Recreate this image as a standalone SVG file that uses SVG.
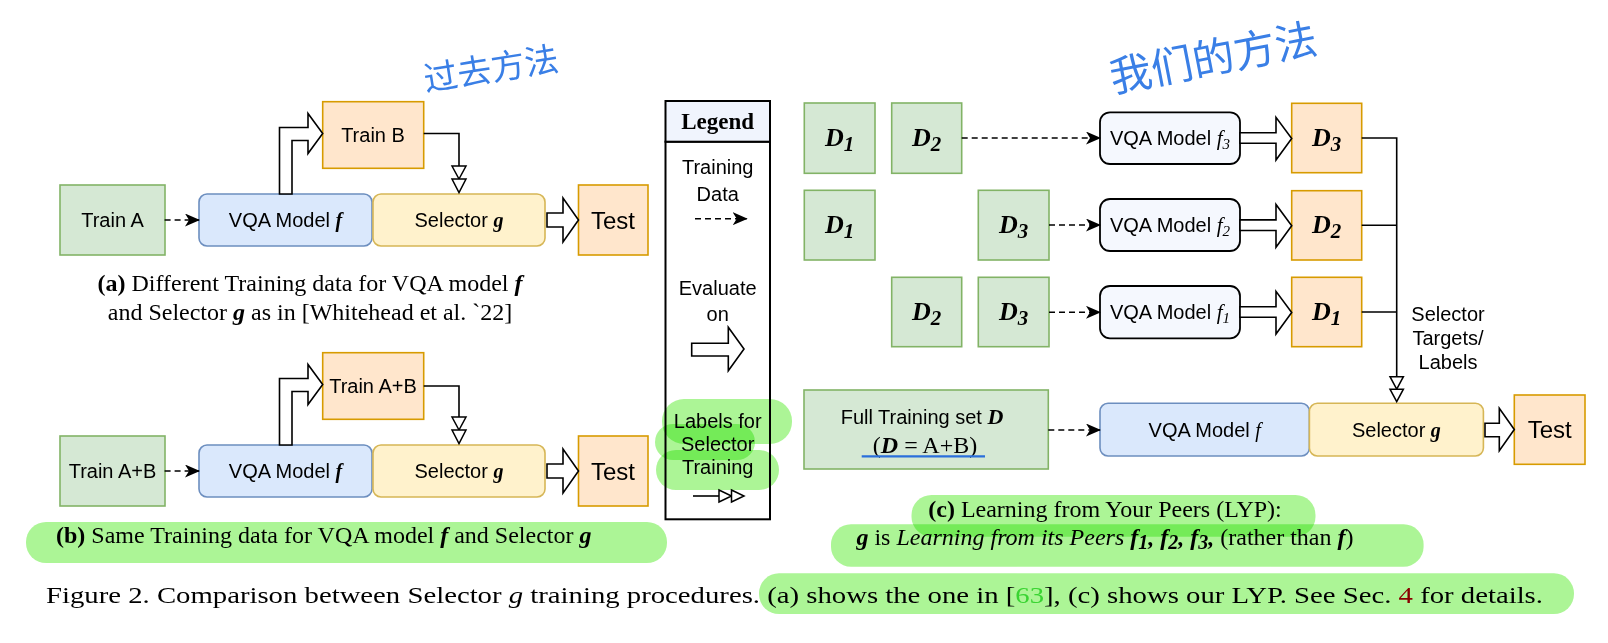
<svg xmlns="http://www.w3.org/2000/svg" width="1608" height="643" viewBox="0 0 1608 643">
<defs>
<style>
.g{fill:#d5e8d4;stroke:#82b366;stroke-width:1.6}
.o{fill:#ffe6cc;stroke:#d79b00;stroke-width:1.6}
.b{fill:#dae8fc;stroke:#6c8ebf;stroke-width:1.6}
.y{fill:#fff2cc;stroke:#d6b656;stroke-width:1.6}
.w{fill:#f5f8fe;stroke:#000;stroke-width:1.8}
.lbl{font-family:"Liberation Sans",Arial,sans-serif;font-size:20px;fill:#000;text-anchor:middle}
.big{font-size:24px}
.tm{font-family:"Liberation Serif","Times New Roman",serif}
.bi{font-family:"Liberation Serif","Times New Roman",serif;font-weight:bold;font-style:italic}
.it{font-family:"Liberation Serif","Times New Roman",serif;font-style:italic}
.bd{font-weight:bold}
.dl{font-family:"Liberation Serif","Times New Roman",serif;font-weight:bold;font-style:italic;font-size:26px;text-anchor:middle;fill:#000}
.cap{font-family:"Liberation Serif","Times New Roman",serif;font-size:24px;fill:#000}
.hol{fill:#fff;stroke:#000;stroke-width:1.6;stroke-linejoin:miter}
.ln{fill:none;stroke:#000;stroke-width:1.6}
.dash{fill:none;stroke:#000;stroke-width:1.6;stroke-dasharray:6 4}
.tri{fill:#fff;stroke:#000;stroke-width:1.5}
.hl{fill:#a3f48b;mix-blend-mode:multiply;opacity:0.9}
.hw{font-family:"Noto Sans CJK SC",sans-serif;fill:#3a7fe6;text-anchor:middle}
</style>
<marker id="ah" markerWidth="15" markerHeight="13" refX="14" refY="6.5" orient="auto" markerUnits="userSpaceOnUse">
<path d="M0,0 L15,6.5 L0,13 L4,6.5 Z" fill="#000"/>
</marker>
</defs>
<rect width="1608" height="643" fill="#fff"/>

<!-- handwriting -->
<text class="hw" x="491" y="81" font-size="34" transform="rotate(-9 491 68)">过去方法</text>
<text class="hw" x="1213" y="73" font-size="42" transform="rotate(-11 1213 57)">我们的方法</text>

<!-- (a) -->
<g id="a-trainA"><rect class="g" x="60" y="185" width="105" height="70"/><text class="lbl" x="112.5" y="227">Train A</text></g>
<g id="a-vqa"><rect class="b" x="199" y="194" width="173" height="52" rx="8"/><text class="lbl" x="285.5" y="227">VQA Model <tspan class="bi">f</tspan></text></g>
<g id="a-sel"><rect class="y" x="373" y="194" width="172" height="52" rx="8"/><text class="lbl" x="459" y="227">Selector <tspan class="bi">g</tspan></text></g>
<g id="a-test"><rect class="o" x="578.5" y="185" width="69.5" height="70"/><text class="lbl big" x="613" y="228.6">Test</text></g>
<g id="a-trainB"><rect class="o" x="322.7" y="101.7" width="101" height="66.6"/><text class="lbl" x="373" y="142">Train B</text></g>
<g id="a-caption">
<text class="cap" x="310" y="291" text-anchor="middle"><tspan class="bd">(a)</tspan> Different Training data for VQA model <tspan class="bi">f</tspan></text>
<text class="cap" x="310" y="320" text-anchor="middle">and Selector <tspan class="bi">g</tspan> as in [Whitehead et al. `22]</text>
</g>

<!-- (b) -->
<g id="b-trainAB"><rect class="g" x="60" y="436" width="105" height="70"/><text class="lbl" x="112.5" y="478">Train A+B</text></g>
<g id="b-vqa"><rect class="b" x="199" y="445" width="173" height="52" rx="8"/><text class="lbl" x="285.5" y="478">VQA Model <tspan class="bi">f</tspan></text></g>
<g id="b-sel"><rect class="y" x="373" y="445" width="172" height="52" rx="8"/><text class="lbl" x="459" y="478">Selector <tspan class="bi">g</tspan></text></g>
<g id="b-test"><rect class="o" x="578.5" y="436" width="69.5" height="70"/><text class="lbl big" x="613" y="479.6">Test</text></g>
<g id="b-trainAB2"><rect class="o" x="322.7" y="352.7" width="101" height="66.6"/><text class="lbl" x="373" y="393">Train A+B</text></g>

<!-- legend -->
<g id="legend">
<rect x="665.5" y="141.7" width="104.5" height="377.6" fill="#fff" stroke="#000" stroke-width="2"/>
<rect x="665.5" y="101" width="104.5" height="40.7" fill="#f0f4fd" stroke="#000" stroke-width="2"/>
<text class="tm bd" x="717.7" y="128.5" font-size="23" text-anchor="middle">Legend</text>
<text class="lbl" x="717.7" y="174">Training</text>
<text class="lbl" x="717.7" y="201">Data</text>
<path class="dash" d="M695,218.7 L746.7,218.7" marker-end="url(#ah)"/>
<text class="lbl" x="717.7" y="295">Evaluate</text>
<text class="lbl" x="717.7" y="321">on</text>
<polygon class="hol" points="691.7,343.3 728.3,343.3 728.3,327.3 744,349 728.3,370.7 728.3,356 691.7,356"/>
<text class="lbl" x="717.7" y="428">Labels for</text>
<text class="lbl" x="717.7" y="451">Selector</text>
<text class="lbl" x="717.7" y="474">Training</text>
<path class="ln" d="M693,496 L719,496"/>
<polygon class="tri" points="719,490 731.5,496 719,502"/>
<polygon class="tri" points="731.5,490 744,496 731.5,502"/>
</g>

<!-- (c) data boxes -->
<g id="c-r1-d1"><rect class="g" x="804.3" y="103" width="70.7" height="70.3"/><text class="dl" x="839.7" y="146">D<tspan font-size="21" dy="5">1</tspan></text></g>
<g id="c-r1-d2"><rect class="g" x="891.7" y="103" width="70" height="70.3"/><text class="dl" x="926.7" y="146">D<tspan font-size="21" dy="5">2</tspan></text></g>
<g id="c-r2-d1"><rect class="g" x="804.3" y="190.3" width="70.7" height="69.7"/><text class="dl" x="839.7" y="233">D<tspan font-size="21" dy="5">1</tspan></text></g>
<g id="c-r2-d3"><rect class="g" x="978.3" y="190.3" width="70.7" height="69.7"/><text class="dl" x="1013.7" y="233">D<tspan font-size="21" dy="5">3</tspan></text></g>
<g id="c-r3-d2"><rect class="g" x="891.7" y="277.3" width="70" height="69.4"/><text class="dl" x="926.7" y="320">D<tspan font-size="21" dy="5">2</tspan></text></g>
<g id="c-r3-d3"><rect class="g" x="978.3" y="277.3" width="70.7" height="69.4"/><text class="dl" x="1013.7" y="320">D<tspan font-size="21" dy="5">3</tspan></text></g>

<g id="c-f3"><rect class="w" x="1100" y="112.3" width="140" height="51.7" rx="10"/><text class="lbl" x="1170" y="145">VQA Model <tspan class="it" font-size="21">f</tspan><tspan class="it" font-size="15" dy="4">3</tspan></text></g>
<g id="c-f2"><rect class="w" x="1100" y="199" width="140" height="52" rx="10"/><text class="lbl" x="1170" y="232">VQA Model <tspan class="it" font-size="21">f</tspan><tspan class="it" font-size="15" dy="4">2</tspan></text></g>
<g id="c-f1"><rect class="w" x="1100" y="286" width="140" height="52.3" rx="10"/><text class="lbl" x="1170" y="319">VQA Model <tspan class="it" font-size="21">f</tspan><tspan class="it" font-size="15" dy="4">1</tspan></text></g>

<g id="c-o3"><rect class="o" x="1291.7" y="103.3" width="70" height="69.4"/><text class="dl" x="1326.7" y="146">D<tspan font-size="21" dy="5">3</tspan></text></g>
<g id="c-o2"><rect class="o" x="1291.7" y="190.7" width="70" height="69.3"/><text class="dl" x="1326.7" y="233">D<tspan font-size="21" dy="5">2</tspan></text></g>
<g id="c-o1"><rect class="o" x="1291.7" y="277.3" width="70" height="69.4"/><text class="dl" x="1326.7" y="320">D<tspan font-size="21" dy="5">1</tspan></text></g>

<g id="c-full"><rect class="g" x="804" y="390" width="244.3" height="79"/>
<text class="lbl" x="922" y="423.5" font-size="21">Full Training set <tspan class="bi" font-size="22">D</tspan></text>
<text class="tm" x="925" y="453.3" font-size="24" text-anchor="middle">(<tspan class="bi">D</tspan> = A+B)</text>
<path d="M861.7,456.3 L985,456.3" stroke="#2a6fdb" stroke-width="2.2" fill="none"/>
</g>
<g id="c-vqa"><rect class="b" x="1100" y="403.3" width="209.4" height="52.7" rx="8"/><text class="lbl" x="1204.7" y="437">VQA Model <tspan class="it">f</tspan></text></g>
<g id="c-sel"><rect class="y" x="1309.4" y="403.3" width="174" height="52.7" rx="8"/><text class="lbl" x="1396.4" y="437">Selector <tspan class="bi">g</tspan></text></g>
<g id="c-test"><rect class="o" x="1514.3" y="395" width="70.7" height="69.3"/><text class="lbl big" x="1549.7" y="438.2">Test</text></g>
<g id="c-targets">
<text class="lbl" x="1448" y="321" font-size="19.5">Selector</text>
<text class="lbl" x="1448" y="345" font-size="19.5">Targets/</text>
<text class="lbl" x="1448" y="369" font-size="19.5">Labels</text>
</g>

<!-- connectors -->
<g id="connectors">
<path class="dash" d="M164.6,220 L199,220" marker-end="url(#ah)"/>
<polygon class="hol" points="279.5,194 279.5,127.5 308,127.5 308,113.5 322.7,133.5 308,153.5 308,140.5 292,140.5 292,194"/>
<path class="ln" d="M423.7,133.5 L459,133.5 L459,166"/>
<polygon class="tri" points="452,166 466,166 459,179"/>
<polygon class="tri" points="452,179 466,179 459,192.5"/>
<polygon class="hol" points="547,213 563,213 563,198 578.5,220 563,242 563,227 547,227"/>

<path class="dash" d="M164.6,471 L199,471" marker-end="url(#ah)"/>
<polygon class="hol" points="279.5,445 279.5,378.5 308,378.5 308,364.5 322.7,384.5 308,404.5 308,391.5 292,391.5 292,445"/>
<path class="ln" d="M423.7,386 L459,386 L459,417"/>
<polygon class="tri" points="452,417 466,417 459,430"/>
<polygon class="tri" points="452,430 466,430 459,443.5"/>
<polygon class="hol" points="547,464 563,464 563,449 578.5,471 563,493 563,478 547,478"/>

<path class="dash" d="M961.7,138 L1100,138" marker-end="url(#ah)"/>
<path class="dash" d="M1049,225 L1100,225" marker-end="url(#ah)"/>
<path class="dash" d="M1049,312.3 L1100,312.3" marker-end="url(#ah)"/>
<polygon class="hol" points="1240,132.7 1276,132.7 1276,117.3 1291.7,138.5 1276,160 1276,143.3 1240,143.3"/>
<polygon class="hol" points="1240,219.9 1276,219.9 1276,204.5 1291.7,225.7 1276,247.2 1276,230.5 1240,230.5"/>
<polygon class="hol" points="1240,306.7 1276,306.7 1276,291.3 1291.7,312.5 1276,334 1276,317.3 1240,317.3"/>
<path class="ln" d="M1361.7,138 L1396.7,138 L1396.7,376.7 M1361.7,225.3 L1396.7,225.3 M1361.7,312 L1396.7,312"/>
<polygon class="tri" points="1390,376.7 1403.4,376.7 1396.7,389.2"/>
<polygon class="tri" points="1390,389.2 1403.4,389.2 1396.7,401.7"/>
<path class="dash" d="M1048.3,430 L1100,430" marker-end="url(#ah)"/>
<polygon class="hol" points="1485,423.3 1499.3,423.3 1499.3,408.3 1514.3,429.5 1499.3,450.7 1499.3,436.7 1485,436.7"/>
</g>

<!-- captions -->
<text class="cap" x="56" y="543.3"><tspan class="bd">(b)</tspan> Same Training data for VQA model <tspan class="bi">f</tspan> and Selector <tspan class="bi">g</tspan></text>
<text class="cap" x="1105" y="516.7" text-anchor="middle"><tspan class="bd">(c)</tspan> Learning from Your Peers (LYP):</text>
<text class="cap" x="1105" y="545" text-anchor="middle"><tspan class="bi">g</tspan> is <tspan class="it">Learning from its Peers</tspan> <tspan class="bi">f</tspan><tspan class="bi" font-size="20" dy="4">1</tspan><tspan class="bi" dy="-4">, f</tspan><tspan class="bi" font-size="20" dy="4">2</tspan><tspan class="bi" dy="-4">, f</tspan><tspan class="bi" font-size="20" dy="4">3</tspan><tspan class="bi" dy="-4">,</tspan> (rather than <tspan class="bi">f</tspan>)</text>
<text class="cap" x="46" y="603" font-size="30" textLength="1497" lengthAdjust="spacingAndGlyphs">Figure 2. Comparison between Selector <tspan class="it">g</tspan> training procedures. (a) shows the one in [<tspan fill="#55dd55">63</tspan>], (c) shows our LYP. See Sec. <tspan fill="#cc0000">4</tspan> for details.</text>

<!-- highlighter -->
<g id="highlights">
<rect class="hl" x="26" y="522" width="641" height="41" rx="20"/>
<rect class="hl" x="911.5" y="495" width="404" height="41.7" rx="20"/>
<rect class="hl" x="831" y="524.3" width="592.6" height="42.4" rx="20"/>
<rect class="hl" x="759" y="573.3" width="815" height="40.7" rx="20"/>
<rect class="hl" x="662" y="399" width="130" height="45" rx="22"/>
<rect class="hl" x="655" y="424" width="100" height="36" rx="18"/>
<rect class="hl" x="656" y="450" width="123" height="40" rx="20"/>
</g>
</svg>
